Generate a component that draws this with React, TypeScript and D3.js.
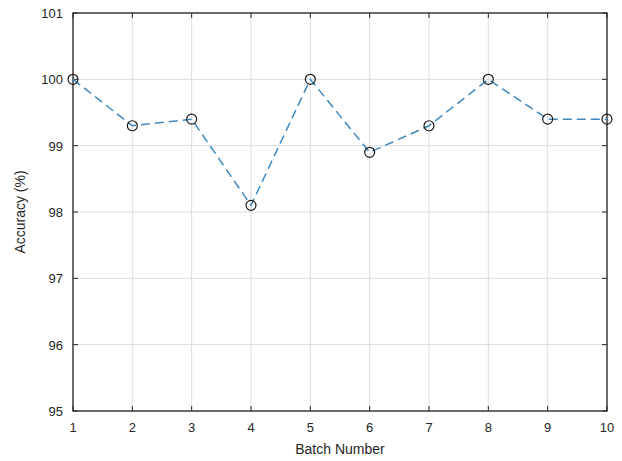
import React from "react";
import * as d3 from "d3";

const batches = [1, 2, 3, 4, 5, 6, 7, 8, 9, 10];
const accuracy = [100, 99.3, 99.4, 98.1, 100, 98.9, 99.3, 100, 99.4, 99.4];
const yTicks = [95, 96, 97, 98, 99, 100, 101];
const xTicks = [1, 2, 3, 4, 5, 6, 7, 8, 9, 10];

export default function App() {
  const W = 622, H = 461;
  const L = 73, R = 607, T = 13, B = 411;
  const x = d3.scaleLinear().domain([1, 10]).range([L, R]);
  const y = d3.scaleLinear().domain([95, 101]).range([B, T]);
  const line = d3.line<number>().x((_, i) => x(batches[i])).y((d) => y(d));
  const font = "'Liberation Sans', Arial, sans-serif";
  const axisColor = "#262626";
  return (
    <svg width={W} height={H} style={{ position: "absolute", left: 0, top: 0, background: "#fff" }}>
      <rect x={0} y={0} width={W} height={H} fill="#fff" />
      {xTicks.map((t) => (
        <line key={"gx" + t} x1={x(t)} x2={x(t)} y1={T} y2={B} stroke="#dcdcdc" strokeWidth={1} />
      ))}
      {yTicks.map((t) => (
        <line key={"gy" + t} x1={L} x2={R} y1={y(t)} y2={y(t)} stroke="#dcdcdc" strokeWidth={1} />
      ))}
      {xTicks.map((t) => (
        <g key={"tx" + t}>
          <line x1={x(t)} x2={x(t)} y1={B} y2={B - 5} stroke={axisColor} />
          <line x1={x(t)} x2={x(t)} y1={T} y2={T + 5} stroke={axisColor} />
          <text x={x(t)} y={432} textAnchor="middle" fontFamily={font} fontSize={13} fill={axisColor}>{t}</text>
        </g>
      ))}
      {yTicks.map((t) => (
        <g key={"ty" + t}>
          <line x1={L} x2={L + 5} y1={y(t)} y2={y(t)} stroke={axisColor} />
          <line x1={R} x2={R - 5} y1={y(t)} y2={y(t)} stroke={axisColor} />
          <text x={63} y={y(t) + 5} textAnchor="end" fontFamily={font} fontSize={13} fill={axisColor}>{t}</text>
        </g>
      ))}
      <rect x={L} y={T} width={R - L} height={B - T} fill="none" stroke={axisColor} strokeWidth={1.3} />
      <path d={line(accuracy) || ""} fill="none" stroke="#3f88bd" strokeWidth={1.5} strokeDasharray="9,5" />
      {accuracy.map((v, i) => (
        <circle key={"c" + i} cx={x(batches[i])} cy={y(v)} r={5} fill="none" stroke="#1a1a1a" strokeWidth={1.2} />
      ))}
      <text x={(L + R) / 2} y={454} textAnchor="middle" fontFamily={font} fontSize={14} fill={axisColor}>Batch Number</text>
      <text transform={`translate(25, ${(T + B) / 2}) rotate(-90)`} textAnchor="middle" fontFamily={font} fontSize={14} fill={axisColor}>Accuracy (%)</text>
    </svg>
  );
}
